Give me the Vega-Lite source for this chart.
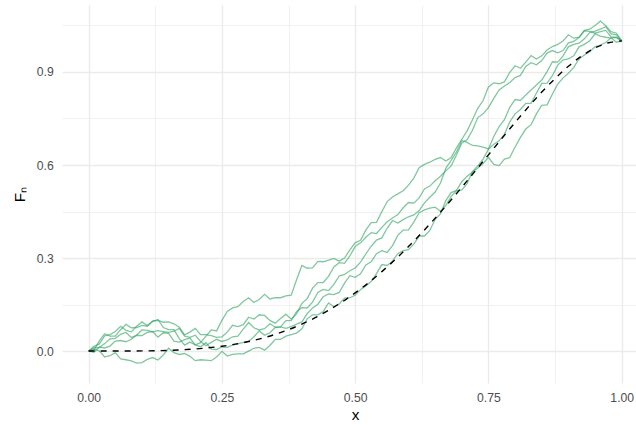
{
  "$schema": "https://vega.github.io/schema/vega-lite/v6.json",
  "autosize": {"type": "none"},
  "padding": {"left": 62, "top": 5, "right": 0, "bottom": 42},
  "width": 574,
  "height": 378,
  "background": "white",
  "config": {
    "view": {"stroke": null},
    "axis": {
      "domain": false,
      "ticks": false,
      "tickSize": 0,
      "gridColor": "#EBEBEB",
      "labelFont": "Liberation Sans",
      "labelFontSize": 12.2,
      "labelColor": "#4D4D4D",
      "labelFlush": false,
      "labelOverlap": false,
      "titleFont": "Liberation Sans",
      "titleFontSize": 15.3,
      "titleColor": "#000000",
      "titleFontWeight": "normal"
    }
  },
  "datasets": {
    "paths": [
      {"run":"a","x":0,"Fn":0},{"run":"a","x":0.01,"Fn":0.015},{"run":"a","x":0.02,"Fn":0.023},{"run":"a","x":0.03,"Fn":0.049},{"run":"a","x":0.04,"Fn":0.053},{"run":"a","x":0.05,"Fn":0.063},{"run":"a","x":0.06,"Fn":0.08},{"run":"a","x":0.07,"Fn":0.067},{"run":"a","x":0.08,"Fn":0.062},{"run":"a","x":0.09,"Fn":0.08},
      {"run":"a","x":0.1,"Fn":0.094},{"run":"a","x":0.11,"Fn":0.082},{"run":"a","x":0.12,"Fn":0.095},{"run":"a","x":0.13,"Fn":0.102},{"run":"a","x":0.14,"Fn":0.076},{"run":"a","x":0.15,"Fn":0.069},{"run":"a","x":0.16,"Fn":0.069},{"run":"a","x":0.17,"Fn":0.04},{"run":"a","x":0.18,"Fn":0.019},{"run":"a","x":0.19,"Fn":0.029},
      {"run":"a","x":0.2,"Fn":0.02},{"run":"a","x":0.21,"Fn":0.027},{"run":"a","x":0.22,"Fn":0.048},{"run":"a","x":0.23,"Fn":0.068},{"run":"a","x":0.24,"Fn":0.065},{"run":"a","x":0.25,"Fn":0.099},{"run":"a","x":0.26,"Fn":0.128},{"run":"a","x":0.27,"Fn":0.139},{"run":"a","x":0.28,"Fn":0.143},{"run":"a","x":0.29,"Fn":0.16},
      {"run":"a","x":0.3,"Fn":0.172},{"run":"a","x":0.31,"Fn":0.157},{"run":"a","x":0.32,"Fn":0.166},{"run":"a","x":0.33,"Fn":0.183},{"run":"a","x":0.34,"Fn":0.168},{"run":"a","x":0.35,"Fn":0.172},{"run":"a","x":0.36,"Fn":0.172},{"run":"a","x":0.37,"Fn":0.178},{"run":"a","x":0.38,"Fn":0.18},{"run":"a","x":0.39,"Fn":0.23},
      {"run":"a","x":0.4,"Fn":0.276},{"run":"a","x":0.41,"Fn":0.267},{"run":"a","x":0.42,"Fn":0.268},{"run":"a","x":0.43,"Fn":0.289},{"run":"a","x":0.44,"Fn":0.288},{"run":"a","x":0.45,"Fn":0.293},{"run":"a","x":0.46,"Fn":0.299},{"run":"a","x":0.47,"Fn":0.29},{"run":"a","x":0.48,"Fn":0.3},{"run":"a","x":0.49,"Fn":0.326},
      {"run":"a","x":0.5,"Fn":0.349},{"run":"a","x":0.51,"Fn":0.357},{"run":"a","x":0.52,"Fn":0.39},{"run":"a","x":0.53,"Fn":0.414},{"run":"a","x":0.54,"Fn":0.415},{"run":"a","x":0.55,"Fn":0.449},{"run":"a","x":0.56,"Fn":0.482},{"run":"a","x":0.57,"Fn":0.497},{"run":"a","x":0.58,"Fn":0.507},{"run":"a","x":0.59,"Fn":0.517},
      {"run":"a","x":0.6,"Fn":0.535},{"run":"a","x":0.61,"Fn":0.558},{"run":"a","x":0.62,"Fn":0.591},{"run":"a","x":0.63,"Fn":0.602},{"run":"a","x":0.64,"Fn":0.609},{"run":"a","x":0.65,"Fn":0.618},{"run":"a","x":0.66,"Fn":0.624},{"run":"a","x":0.67,"Fn":0.613},{"run":"a","x":0.68,"Fn":0.624},{"run":"a","x":0.69,"Fn":0.655},
      {"run":"a","x":0.7,"Fn":0.683},{"run":"a","x":0.71,"Fn":0.71},{"run":"a","x":0.72,"Fn":0.746},{"run":"a","x":0.73,"Fn":0.783},{"run":"a","x":0.74,"Fn":0.808},{"run":"a","x":0.75,"Fn":0.852},{"run":"a","x":0.76,"Fn":0.865},{"run":"a","x":0.77,"Fn":0.862},{"run":"a","x":0.78,"Fn":0.868},{"run":"a","x":0.79,"Fn":0.899},
      {"run":"a","x":0.8,"Fn":0.92},{"run":"a","x":0.81,"Fn":0.912},{"run":"a","x":0.82,"Fn":0.932},{"run":"a","x":0.83,"Fn":0.953},{"run":"a","x":0.84,"Fn":0.942},{"run":"a","x":0.85,"Fn":0.952},{"run":"a","x":0.86,"Fn":0.971},{"run":"a","x":0.87,"Fn":0.982},{"run":"a","x":0.88,"Fn":0.989},{"run":"a","x":0.89,"Fn":1.0},
      {"run":"a","x":0.9,"Fn":1.02},{"run":"a","x":0.91,"Fn":1.009},{"run":"a","x":0.92,"Fn":1.012},{"run":"a","x":0.93,"Fn":1.034},{"run":"a","x":0.94,"Fn":1.038},{"run":"a","x":0.95,"Fn":1.05},{"run":"a","x":0.96,"Fn":1.064},{"run":"a","x":0.97,"Fn":1.049},{"run":"a","x":0.98,"Fn":1.03},{"run":"a","x":0.99,"Fn":1.025},
      {"run":"a","x":1,"Fn":1},

      {"run":"b","x":0,"Fn":0},{"run":"b","x":0.01,"Fn":0.003},{"run":"b","x":0.02,"Fn":0.033},{"run":"b","x":0.03,"Fn":0.056},{"run":"b","x":0.04,"Fn":0.048},{"run":"b","x":0.05,"Fn":0.048},{"run":"b","x":0.06,"Fn":0.069},{"run":"b","x":0.07,"Fn":0.086},{"run":"b","x":0.08,"Fn":0.075},{"run":"b","x":0.09,"Fn":0.076},
      {"run":"b","x":0.1,"Fn":0.083},{"run":"b","x":0.11,"Fn":0.08},{"run":"b","x":0.12,"Fn":0.097},{"run":"b","x":0.13,"Fn":0.099},{"run":"b","x":0.14,"Fn":0.093},{"run":"b","x":0.15,"Fn":0.094},{"run":"b","x":0.16,"Fn":0.088},{"run":"b","x":0.17,"Fn":0.077},{"run":"b","x":0.18,"Fn":0.052},{"run":"b","x":0.19,"Fn":0.061},
      {"run":"b","x":0.2,"Fn":0.073},{"run":"b","x":0.21,"Fn":0.053},{"run":"b","x":0.22,"Fn":0.053},{"run":"b","x":0.23,"Fn":0.05},{"run":"b","x":0.24,"Fn":0.044},{"run":"b","x":0.25,"Fn":0.046},{"run":"b","x":0.26,"Fn":0.061},{"run":"b","x":0.27,"Fn":0.083},{"run":"b","x":0.28,"Fn":0.079},{"run":"b","x":0.29,"Fn":0.085},
      {"run":"b","x":0.3,"Fn":0.109},{"run":"b","x":0.31,"Fn":0.103},{"run":"b","x":0.32,"Fn":0.117},{"run":"b","x":0.33,"Fn":0.115},{"run":"b","x":0.34,"Fn":0.099},{"run":"b","x":0.35,"Fn":0.09},{"run":"b","x":0.36,"Fn":0.105},{"run":"b","x":0.37,"Fn":0.119},{"run":"b","x":0.38,"Fn":0.103},{"run":"b","x":0.39,"Fn":0.12},
      {"run":"b","x":0.4,"Fn":0.154},{"run":"b","x":0.41,"Fn":0.169},{"run":"b","x":0.42,"Fn":0.203},{"run":"b","x":0.43,"Fn":0.221},{"run":"b","x":0.44,"Fn":0.221},{"run":"b","x":0.45,"Fn":0.241},{"run":"b","x":0.46,"Fn":0.271},{"run":"b","x":0.47,"Fn":0.285},{"run":"b","x":0.48,"Fn":0.283},{"run":"b","x":0.49,"Fn":0.307},
      {"run":"b","x":0.5,"Fn":0.337},{"run":"b","x":0.51,"Fn":0.349},{"run":"b","x":0.52,"Fn":0.367},{"run":"b","x":0.53,"Fn":0.382},{"run":"b","x":0.54,"Fn":0.379},{"run":"b","x":0.55,"Fn":0.399},{"run":"b","x":0.56,"Fn":0.417},{"run":"b","x":0.57,"Fn":0.429},{"run":"b","x":0.58,"Fn":0.44},{"run":"b","x":0.59,"Fn":0.462},
      {"run":"b","x":0.6,"Fn":0.479},{"run":"b","x":0.61,"Fn":0.477},{"run":"b","x":0.62,"Fn":0.494},{"run":"b","x":0.63,"Fn":0.523},{"run":"b","x":0.64,"Fn":0.532},{"run":"b","x":0.65,"Fn":0.549},{"run":"b","x":0.66,"Fn":0.564},{"run":"b","x":0.67,"Fn":0.581},{"run":"b","x":0.68,"Fn":0.597},{"run":"b","x":0.69,"Fn":0.632},
      {"run":"b","x":0.7,"Fn":0.671},{"run":"b","x":0.71,"Fn":0.681},{"run":"b","x":0.72,"Fn":0.712},{"run":"b","x":0.73,"Fn":0.753},{"run":"b","x":0.74,"Fn":0.765},{"run":"b","x":0.75,"Fn":0.785},{"run":"b","x":0.76,"Fn":0.815},{"run":"b","x":0.77,"Fn":0.842},{"run":"b","x":0.78,"Fn":0.855},{"run":"b","x":0.79,"Fn":0.866},
      {"run":"b","x":0.8,"Fn":0.882},{"run":"b","x":0.81,"Fn":0.889},{"run":"b","x":0.82,"Fn":0.918},{"run":"b","x":0.83,"Fn":0.93},{"run":"b","x":0.84,"Fn":0.923},{"run":"b","x":0.85,"Fn":0.937},{"run":"b","x":0.86,"Fn":0.961},{"run":"b","x":0.87,"Fn":0.969},{"run":"b","x":0.88,"Fn":0.962},{"run":"b","x":0.89,"Fn":0.969},
      {"run":"b","x":0.9,"Fn":0.994},{"run":"b","x":0.91,"Fn":0.999},{"run":"b","x":0.92,"Fn":1.011},{"run":"b","x":0.93,"Fn":1.033},{"run":"b","x":0.94,"Fn":1.031},{"run":"b","x":0.95,"Fn":1.025},{"run":"b","x":0.96,"Fn":1.03},{"run":"b","x":0.97,"Fn":1.034},{"run":"b","x":0.98,"Fn":1.014},{"run":"b","x":0.99,"Fn":1.011},
      {"run":"b","x":1,"Fn":1},

      {"run":"c","x":0,"Fn":0},{"run":"c","x":0.01,"Fn":0.011},{"run":"c","x":0.02,"Fn":0.011},{"run":"c","x":0.03,"Fn":0.024},{"run":"c","x":0.04,"Fn":0.039},{"run":"c","x":0.05,"Fn":0.041},{"run":"c","x":0.06,"Fn":0.054},{"run":"c","x":0.07,"Fn":0.06},{"run":"c","x":0.08,"Fn":0.044},{"run":"c","x":0.09,"Fn":0.051},
      {"run":"c","x":0.1,"Fn":0.068},{"run":"c","x":0.11,"Fn":0.067},{"run":"c","x":0.12,"Fn":0.062},{"run":"c","x":0.13,"Fn":0.066},{"run":"c","x":0.14,"Fn":0.063},{"run":"c","x":0.15,"Fn":0.06},{"run":"c","x":0.16,"Fn":0.064},{"run":"c","x":0.17,"Fn":0.073},{"run":"c","x":0.18,"Fn":0.048},{"run":"c","x":0.19,"Fn":0.044},
      {"run":"c","x":0.2,"Fn":0.051},{"run":"c","x":0.21,"Fn":0.031},{"run":"c","x":0.22,"Fn":0.017},{"run":"c","x":0.23,"Fn":0.028},{"run":"c","x":0.24,"Fn":0.038},{"run":"c","x":0.25,"Fn":0.031},{"run":"c","x":0.26,"Fn":0.036},{"run":"c","x":0.27,"Fn":0.046},{"run":"c","x":0.28,"Fn":0.048},{"run":"c","x":0.29,"Fn":0.071},
      {"run":"c","x":0.3,"Fn":0.092},{"run":"c","x":0.31,"Fn":0.075},{"run":"c","x":0.32,"Fn":0.068},{"run":"c","x":0.33,"Fn":0.072},{"run":"c","x":0.34,"Fn":0.088},{"run":"c","x":0.35,"Fn":0.077},{"run":"c","x":0.36,"Fn":0.078},{"run":"c","x":0.37,"Fn":0.098},{"run":"c","x":0.38,"Fn":0.098},{"run":"c","x":0.39,"Fn":0.127},
      {"run":"c","x":0.4,"Fn":0.14},{"run":"c","x":0.41,"Fn":0.139},{"run":"c","x":0.42,"Fn":0.158},{"run":"c","x":0.43,"Fn":0.189},{"run":"c","x":0.44,"Fn":0.199},{"run":"c","x":0.45,"Fn":0.195},{"run":"c","x":0.46,"Fn":0.215},{"run":"c","x":0.47,"Fn":0.242},{"run":"c","x":0.48,"Fn":0.247},{"run":"c","x":0.49,"Fn":0.259},
      {"run":"c","x":0.5,"Fn":0.268},{"run":"c","x":0.51,"Fn":0.287},{"run":"c","x":0.52,"Fn":0.313},{"run":"c","x":0.53,"Fn":0.338},{"run":"c","x":0.54,"Fn":0.358},{"run":"c","x":0.55,"Fn":0.365},{"run":"c","x":0.56,"Fn":0.396},{"run":"c","x":0.57,"Fn":0.421},{"run":"c","x":0.58,"Fn":0.413},{"run":"c","x":0.59,"Fn":0.424},
      {"run":"c","x":0.6,"Fn":0.433},{"run":"c","x":0.61,"Fn":0.439},{"run":"c","x":0.62,"Fn":0.453},{"run":"c","x":0.63,"Fn":0.478},{"run":"c","x":0.64,"Fn":0.496},{"run":"c","x":0.65,"Fn":0.513},{"run":"c","x":0.66,"Fn":0.542},{"run":"c","x":0.67,"Fn":0.589},{"run":"c","x":0.68,"Fn":0.615},{"run":"c","x":0.69,"Fn":0.642},
      {"run":"c","x":0.7,"Fn":0.679},{"run":"c","x":0.71,"Fn":0.673},{"run":"c","x":0.72,"Fn":0.663},{"run":"c","x":0.73,"Fn":0.662},{"run":"c","x":0.74,"Fn":0.658},{"run":"c","x":0.75,"Fn":0.652},{"run":"c","x":0.76,"Fn":0.692},{"run":"c","x":0.77,"Fn":0.724},{"run":"c","x":0.78,"Fn":0.746},{"run":"c","x":0.79,"Fn":0.786},
      {"run":"c","x":0.8,"Fn":0.811},{"run":"c","x":0.81,"Fn":0.808},{"run":"c","x":0.82,"Fn":0.826},{"run":"c","x":0.83,"Fn":0.842},{"run":"c","x":0.84,"Fn":0.858},{"run":"c","x":0.85,"Fn":0.874},{"run":"c","x":0.86,"Fn":0.901},{"run":"c","x":0.87,"Fn":0.933},{"run":"c","x":0.88,"Fn":0.932},{"run":"c","x":0.89,"Fn":0.952},
      {"run":"c","x":0.9,"Fn":0.981},{"run":"c","x":0.91,"Fn":0.989},{"run":"c","x":0.92,"Fn":0.993},{"run":"c","x":0.93,"Fn":1.007},{"run":"c","x":0.94,"Fn":1.027},{"run":"c","x":0.95,"Fn":1.032},{"run":"c","x":0.96,"Fn":1.038},{"run":"c","x":0.97,"Fn":1.046},{"run":"c","x":0.98,"Fn":1.023},{"run":"c","x":0.99,"Fn":1.02},
      {"run":"c","x":1,"Fn":1},

      {"run":"d","x":0,"Fn":0},{"run":"d","x":0.01,"Fn":-0.004},{"run":"d","x":0.02,"Fn":0.013},{"run":"d","x":0.03,"Fn":0.01},{"run":"d","x":0.04,"Fn":0.016},{"run":"d","x":0.05,"Fn":0.032},{"run":"d","x":0.06,"Fn":0.034},{"run":"d","x":0.07,"Fn":0.03},{"run":"d","x":0.08,"Fn":0.038},{"run":"d","x":0.09,"Fn":0.051},
      {"run":"d","x":0.1,"Fn":0.05},{"run":"d","x":0.11,"Fn":0.06},{"run":"d","x":0.12,"Fn":0.063},{"run":"d","x":0.13,"Fn":0.045},{"run":"d","x":0.14,"Fn":0.059},{"run":"d","x":0.15,"Fn":0.057},{"run":"d","x":0.16,"Fn":0.032},{"run":"d","x":0.17,"Fn":0.029},{"run":"d","x":0.18,"Fn":0.037},{"run":"d","x":0.19,"Fn":0.042},
      {"run":"d","x":0.2,"Fn":0.02},{"run":"d","x":0.21,"Fn":0.014},{"run":"d","x":0.22,"Fn":0.027},{"run":"d","x":0.23,"Fn":0.006},{"run":"d","x":0.24,"Fn":0.005},{"run":"d","x":0.25,"Fn":0.013},{"run":"d","x":0.26,"Fn":0.012},{"run":"d","x":0.27,"Fn":0.019},{"run":"d","x":0.28,"Fn":0.023},{"run":"d","x":0.29,"Fn":0.028},
      {"run":"d","x":0.3,"Fn":0.031},{"run":"d","x":0.31,"Fn":0.046},{"run":"d","x":0.32,"Fn":0.065},{"run":"d","x":0.33,"Fn":0.051},{"run":"d","x":0.34,"Fn":0.059},{"run":"d","x":0.35,"Fn":0.076},{"run":"d","x":0.36,"Fn":0.078},{"run":"d","x":0.37,"Fn":0.073},{"run":"d","x":0.38,"Fn":0.079},{"run":"d","x":0.39,"Fn":0.087},
      {"run":"d","x":0.4,"Fn":0.094},{"run":"d","x":0.41,"Fn":0.121},{"run":"d","x":0.42,"Fn":0.139},{"run":"d","x":0.43,"Fn":0.151},{"run":"d","x":0.44,"Fn":0.175},{"run":"d","x":0.45,"Fn":0.184},{"run":"d","x":0.46,"Fn":0.182},{"run":"d","x":0.47,"Fn":0.189},{"run":"d","x":0.48,"Fn":0.219},{"run":"d","x":0.49,"Fn":0.243},
      {"run":"d","x":0.5,"Fn":0.238},{"run":"d","x":0.51,"Fn":0.249},{"run":"d","x":0.52,"Fn":0.278},{"run":"d","x":0.53,"Fn":0.288},{"run":"d","x":0.54,"Fn":0.314},{"run":"d","x":0.55,"Fn":0.324},{"run":"d","x":0.56,"Fn":0.318},{"run":"d","x":0.57,"Fn":0.34},{"run":"d","x":0.58,"Fn":0.373},{"run":"d","x":0.59,"Fn":0.39},
      {"run":"d","x":0.6,"Fn":0.391},{"run":"d","x":0.61,"Fn":0.416},{"run":"d","x":0.62,"Fn":0.446},{"run":"d","x":0.63,"Fn":0.455},{"run":"d","x":0.64,"Fn":0.461},{"run":"d","x":0.65,"Fn":0.464},{"run":"d","x":0.66,"Fn":0.451},{"run":"d","x":0.67,"Fn":0.469},{"run":"d","x":0.68,"Fn":0.499},{"run":"d","x":0.69,"Fn":0.517},
      {"run":"d","x":0.7,"Fn":0.52},{"run":"d","x":0.71,"Fn":0.54},{"run":"d","x":0.72,"Fn":0.579},{"run":"d","x":0.73,"Fn":0.597},{"run":"d","x":0.74,"Fn":0.619},{"run":"d","x":0.75,"Fn":0.651},{"run":"d","x":0.76,"Fn":0.667},{"run":"d","x":0.77,"Fn":0.678},{"run":"d","x":0.78,"Fn":0.699},{"run":"d","x":0.79,"Fn":0.739},
      {"run":"d","x":0.8,"Fn":0.765},{"run":"d","x":0.81,"Fn":0.779},{"run":"d","x":0.82,"Fn":0.799},{"run":"d","x":0.83,"Fn":0.799},{"run":"d","x":0.84,"Fn":0.832},{"run":"d","x":0.85,"Fn":0.863},{"run":"d","x":0.86,"Fn":0.864},{"run":"d","x":0.87,"Fn":0.888},{"run":"d","x":0.88,"Fn":0.922},{"run":"d","x":0.89,"Fn":0.939},
      {"run":"d","x":0.9,"Fn":0.942},{"run":"d","x":0.91,"Fn":0.952},{"run":"d","x":0.92,"Fn":0.981},{"run":"d","x":0.93,"Fn":0.989},{"run":"d","x":0.94,"Fn":1.001},{"run":"d","x":0.95,"Fn":1.023},{"run":"d","x":0.96,"Fn":1.016},{"run":"d","x":0.97,"Fn":1.012},{"run":"d","x":0.98,"Fn":1.009},{"run":"d","x":0.99,"Fn":1.012},
      {"run":"d","x":1,"Fn":1},

      {"run":"e","x":0,"Fn":0},{"run":"e","x":0.01,"Fn":0.006},{"run":"e","x":0.02,"Fn":0.001},{"run":"e","x":0.03,"Fn":-0.019},{"run":"e","x":0.04,"Fn":-0.015},{"run":"e","x":0.05,"Fn":-0.005},{"run":"e","x":0.06,"Fn":-0.025},{"run":"e","x":0.07,"Fn":-0.028},{"run":"e","x":0.08,"Fn":-0.032},{"run":"e","x":0.09,"Fn":-0.039},
      {"run":"e","x":0.1,"Fn":-0.037},{"run":"e","x":0.11,"Fn":-0.027},{"run":"e","x":0.12,"Fn":-0.021},{"run":"e","x":0.13,"Fn":-0.029},{"run":"e","x":0.14,"Fn":-0.013},{"run":"e","x":0.15,"Fn":0.009},{"run":"e","x":0.16,"Fn":-0.005},{"run":"e","x":0.17,"Fn":-0.011},{"run":"e","x":0.18,"Fn":-0.008},{"run":"e","x":0.19,"Fn":-0.017},
      {"run":"e","x":0.2,"Fn":-0.031},{"run":"e","x":0.21,"Fn":-0.028},{"run":"e","x":0.22,"Fn":-0.029},{"run":"e","x":0.23,"Fn":-0.031},{"run":"e","x":0.24,"Fn":-0.019},{"run":"e","x":0.25,"Fn":-0.001},{"run":"e","x":0.26,"Fn":-0.016},{"run":"e","x":0.27,"Fn":-0.011},{"run":"e","x":0.28,"Fn":-0.009},{"run":"e","x":0.29,"Fn":-0.009},
      {"run":"e","x":0.3,"Fn":0},{"run":"e","x":0.31,"Fn":0.009},{"run":"e","x":0.32,"Fn":0.012},{"run":"e","x":0.33,"Fn":0.003},{"run":"e","x":0.34,"Fn":0.018},{"run":"e","x":0.35,"Fn":0.038},{"run":"e","x":0.36,"Fn":0.038},{"run":"e","x":0.37,"Fn":0.048},{"run":"e","x":0.38,"Fn":0.053},{"run":"e","x":0.39,"Fn":0.058},
      {"run":"e","x":0.4,"Fn":0.072},{"run":"e","x":0.41,"Fn":0.104},{"run":"e","x":0.42,"Fn":0.117},{"run":"e","x":0.43,"Fn":0.117},{"run":"e","x":0.44,"Fn":0.127},{"run":"e","x":0.45,"Fn":0.155},{"run":"e","x":0.46,"Fn":0.143},{"run":"e","x":0.47,"Fn":0.152},{"run":"e","x":0.48,"Fn":0.171},{"run":"e","x":0.49,"Fn":0.172},
      {"run":"e","x":0.5,"Fn":0.18},{"run":"e","x":0.51,"Fn":0.198},{"run":"e","x":0.52,"Fn":0.211},{"run":"e","x":0.53,"Fn":0.224},{"run":"e","x":0.54,"Fn":0.25},{"run":"e","x":0.55,"Fn":0.279},{"run":"e","x":0.56,"Fn":0.276},{"run":"e","x":0.57,"Fn":0.29},{"run":"e","x":0.58,"Fn":0.314},{"run":"e","x":0.59,"Fn":0.324},
      {"run":"e","x":0.6,"Fn":0.327},{"run":"e","x":0.61,"Fn":0.345},{"run":"e","x":0.62,"Fn":0.371},{"run":"e","x":0.63,"Fn":0.371},{"run":"e","x":0.64,"Fn":0.389},{"run":"e","x":0.65,"Fn":0.425},{"run":"e","x":0.66,"Fn":0.442},{"run":"e","x":0.67,"Fn":0.485},{"run":"e","x":0.68,"Fn":0.511},{"run":"e","x":0.69,"Fn":0.518},
      {"run":"e","x":0.7,"Fn":0.546},{"run":"e","x":0.71,"Fn":0.564},{"run":"e","x":0.72,"Fn":0.577},{"run":"e","x":0.73,"Fn":0.59},{"run":"e","x":0.74,"Fn":0.605},{"run":"e","x":0.75,"Fn":0.625},{"run":"e","x":0.76,"Fn":0.602},{"run":"e","x":0.77,"Fn":0.598},{"run":"e","x":0.78,"Fn":0.619},{"run":"e","x":0.79,"Fn":0.624},
      {"run":"e","x":0.8,"Fn":0.658},{"run":"e","x":0.81,"Fn":0.689},{"run":"e","x":0.82,"Fn":0.716},{"run":"e","x":0.83,"Fn":0.73},{"run":"e","x":0.84,"Fn":0.765},{"run":"e","x":0.85,"Fn":0.792},{"run":"e","x":0.86,"Fn":0.794},{"run":"e","x":0.87,"Fn":0.829},{"run":"e","x":0.88,"Fn":0.861},{"run":"e","x":0.89,"Fn":0.881},
      {"run":"e","x":0.9,"Fn":0.896},{"run":"e","x":0.91,"Fn":0.915},{"run":"e","x":0.92,"Fn":0.942},{"run":"e","x":0.93,"Fn":0.955},{"run":"e","x":0.94,"Fn":0.965},{"run":"e","x":0.95,"Fn":0.981},{"run":"e","x":0.96,"Fn":0.987},{"run":"e","x":0.97,"Fn":0.995},{"run":"e","x":0.98,"Fn":1.01},{"run":"e","x":0.99,"Fn":0.996},
      {"run":"e","x":1,"Fn":1}
    ],
    "cdf": [
      {"x":0,"Fn":0},{"x":0.025,"Fn":0},{"x":0.05,"Fn":0.00003},{"x":0.075,"Fn":0.00015},{"x":0.1,"Fn":0.00046},
      {"x":0.125,"Fn":0.0011},{"x":0.15,"Fn":0.00223},{"x":0.175,"Fn":0.00403},{"x":0.2,"Fn":0.00672},{"x":0.225,"Fn":0.0105},
      {"x":0.25,"Fn":0.01563},{"x":0.275,"Fn":0.0223},{"x":0.3,"Fn":0.03078},{"x":0.325,"Fn":0.0413},{"x":0.35,"Fn":0.05402},
      {"x":0.375,"Fn":0.0692},{"x":0.4,"Fn":0.08704},{"x":0.425,"Fn":0.1077},{"x":0.45,"Fn":0.13122},{"x":0.475,"Fn":0.1578},
      {"x":0.5,"Fn":0.1875},{"x":0.525,"Fn":0.2203},{"x":0.55,"Fn":0.25622},{"x":0.575,"Fn":0.2951},{"x":0.6,"Fn":0.33696},
      {"x":0.625,"Fn":0.3815},{"x":0.65,"Fn":0.42841},{"x":0.675,"Fn":0.4775},{"x":0.7,"Fn":0.52822},{"x":0.725,"Fn":0.5802},
      {"x":0.75,"Fn":0.63281},{"x":0.775,"Fn":0.6854},{"x":0.8,"Fn":0.73728},{"x":0.825,"Fn":0.7875},{"x":0.85,"Fn":0.83521},
      {"x":0.875,"Fn":0.8789},{"x":0.9,"Fn":0.91854},{"x":0.925,"Fn":0.9517},{"x":0.95,"Fn":0.97741},{"x":0.975,"Fn":0.9941},
      {"x":1,"Fn":1}
    ]
  },
  "layer": [
    {
      "data": {"name": "paths"},
      "mark": {"type": "line", "stroke": "#2ca25f", "strokeOpacity": 0.6, "strokeWidth": 1.3, "clip": true},
      "encoding": {
        "x": {
          "field": "x", "type": "quantitative",
          "scale": {"domain": [-0.05, 1.0268], "nice": false, "zero": false},
          "axis": {
            "values": [0, 0.125, 0.25, 0.375, 0.5, 0.625, 0.75, 0.875, 1],
            "labelExpr": "datum.value % 0.25 === 0 ? format(datum.value, '.2f') : ''",
            "gridWidth": {"condition": {"test": "datum.value % 0.25 === 0", "value": 1.4}, "value": 0.7},
            "labelPadding": 8.4,
            "title": "x",
            "titleX": 293,
            "titleY": 36,
            "titleAlign": "center",
            "titleBaseline": "alphabetic"
          }
        },
        "y": {
          "field": "Fn", "type": "quantitative",
          "scale": {"domain": [-0.103, 1.116], "nice": false, "zero": false},
          "axis": {
            "values": [0, 0.15, 0.3, 0.45, 0.6, 0.75, 0.9, 1.05],
            "labelExpr": "round(datum.value * 100) % 30 === 0 ? format(datum.value, '.1f') : ''",
            "gridWidth": {"condition": {"test": "round(datum.value * 100) % 30 === 0", "value": 1.4}, "value": 0.7},
            "labelPadding": 8.7,
            "title": "Fₙ",
            "titleX": -38,
            "titleY": 189,
            "titleAngle": -90,
            "titleAlign": "center",
            "titleBaseline": "alphabetic"
          }
        },
        "detail": {"field": "run", "type": "nominal"}
      }
    },
    {
      "data": {"name": "cdf"},
      "mark": {"type": "line", "stroke": "#000000", "strokeWidth": 1.4, "strokeDash": [6, 6], "interpolate": "monotone", "clip": true},
      "encoding": {
        "x": {"field": "x", "type": "quantitative", "scale": {"domain": [-0.05, 1.0268], "nice": false, "zero": false}},
        "y": {"field": "Fn", "type": "quantitative", "scale": {"domain": [-0.103, 1.116], "nice": false, "zero": false}}
      }
    }
  ]
}
